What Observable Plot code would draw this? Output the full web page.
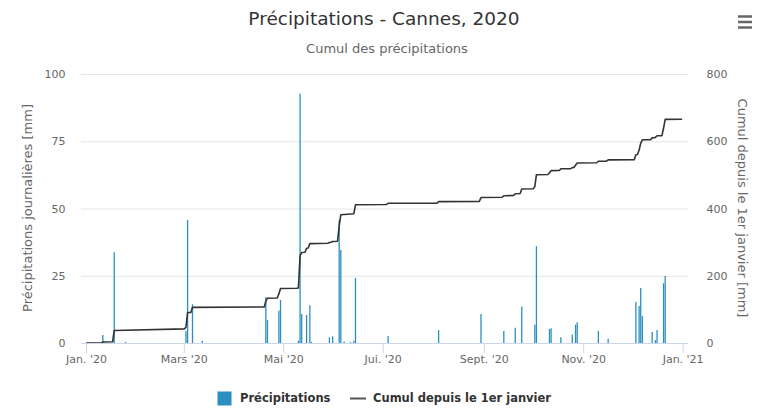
<!DOCTYPE html>
<html>
<head>
<meta charset="utf-8">
<script src="https://cdn.jsdelivr.net/npm/d3@7"></script>
<script src="https://cdn.jsdelivr.net/npm/@observablehq/plot@0.6"></script>
<style>
  body { margin: 0; background: #fff; }
  #chart svg { font-family: "DejaVu Sans", sans-serif; display: block; }
</style>
</head>
<body>
<div id="chart"></div>
<script>
// ---- Daily precipitation (mm) ----
const rainDates = [
  "2020-01-11","2020-01-18","2020-01-25",
  "2020-03-02","2020-03-03","2020-03-06","2020-03-12",
  "2020-04-20","2020-04-21","2020-04-28","2020-04-29",
  "2020-05-10","2020-05-11","2020-05-12","2020-05-15","2020-05-17","2020-05-18","2020-05-29","2020-05-31",
  "2020-06-04","2020-06-05","2020-06-07","2020-06-11","2020-06-13","2020-06-14",
  "2020-07-04","2020-08-04","2020-08-30",
  "2020-09-13","2020-09-20","2020-09-24",
  "2020-10-02","2020-10-03","2020-10-11","2020-10-12","2020-10-18","2020-10-25","2020-10-27","2020-10-28",
  "2020-11-10","2020-11-16",
  "2020-12-03","2020-12-05","2020-12-06","2020-12-07","2020-12-13","2020-12-15","2020-12-16","2020-12-20","2020-12-21"
];
const rainMm = [
  3.0, 33.7, 0.4,
  4.5, 45.7, 14.4, 0.8,
  17.1, 8.5, 12.0, 16.0,
  0.9, 92.7, 10.8, 10.4, 14.0, 0.4, 2.1, 2.5,
  45.7, 34.6, 0.6, 0.3, 0.8, 24.2,
  2.6, 4.8, 10.8,
  4.5, 5.7, 13.6,
  6.8, 36.0, 5.2, 5.5, 2.1, 3.2, 6.8, 7.7,
  4.5, 1.6,
  15.2, 13.8, 20.4, 10.0, 4.1, 1.1, 4.8, 22.2, 24.9
];

// ---- Cumulative since 1 January (mm), vertices of the line ----
const cumulDates = [
  "2020-01-01","2020-01-10","2020-01-11","2020-01-17","2020-01-18","2020-03-01","2020-03-02","2020-03-03","2020-03-05","2020-03-06",
  "2020-04-19","2020-04-20","2020-04-21","2020-04-27","2020-04-28","2020-04-29",
  "2020-05-09","2020-05-10","2020-05-11","2020-05-12","2020-05-14","2020-05-15","2020-05-16","2020-05-17","2020-05-28","2020-05-29","2020-05-30","2020-05-31",
  "2020-06-03","2020-06-04","2020-06-05","2020-06-13","2020-06-14",
  "2020-07-03","2020-07-04","2020-08-03","2020-08-04","2020-08-29","2020-08-30",
  "2020-09-12","2020-09-13","2020-09-19","2020-09-20","2020-09-23","2020-09-24",
  "2020-10-01","2020-10-02","2020-10-03","2020-10-10","2020-10-11","2020-10-12","2020-10-17","2020-10-18","2020-10-24","2020-10-25","2020-10-26","2020-10-27","2020-10-28",
  "2020-11-09","2020-11-10","2020-11-15","2020-11-16",
  "2020-12-02","2020-12-03","2020-12-04","2020-12-05","2020-12-06","2020-12-07","2020-12-12","2020-12-13","2020-12-14","2020-12-15","2020-12-16","2020-12-19","2020-12-20","2020-12-21","2020-12-31"
];
const cumulMm = [
  1, 1, 4.5, 5, 38.7, 43.6, 48.3, 92, 92.5, 107.5,
  108.6, 126, 134.7, 135.5, 147.5, 163.5,
  164.5, 165.5, 261, 270.5, 271.5, 283, 284, 297, 298, 300.5, 301, 303.5,
  304, 349, 383, 386, 412.5,
  413.5, 417, 417.5, 422, 422.5, 434,
  435, 439.5, 440, 445.5, 446, 459.5,
  460, 466.5, 502, 502.5, 508, 514, 514.5, 519.5, 520, 523, 523.5, 530, 537,
  537.5, 542, 542.5, 546,
  546.5, 561.5, 562, 575.5, 596, 605.8, 606, 611.5, 612, 613, 617.7, 618, 641, 666.5, 667
];

// ---- Axes ----
const xTickDates  = ["2020-01-01","2020-03-01","2020-05-01","2020-07-01","2020-09-01","2020-11-01","2021-01-01"];
const xTickLabels = ["Jan. '20","Mars '20","Mai '20","Jui. '20","Sept. '20","Nov. '20","Jan. '21"];
const leftTicks  = [0, 25, 50, 75, 100];
const rightTicks = [0, 200, 400, 600, 800];

const titleText    = "Précipitations - Cannes, 2020";
const subtitleText = "Cumul des précipitations";
const leftTitle    = "Précipitations journalières [mm]";
const rightTitle   = "Cumul depuis le 1er janvier [mm]";
const legendNames  = ["Précipitations", "Cumul depuis le 1er janvier"];

const barColor  = "#2a8fc0";
const lineColor = "#333333";

const parse = d3.utcParse("%Y-%m-%d");
const rain  = rainDates.map((d, i) => ({date: parse(d), mm: rainMm[i]}));
const cumul = cumulDates.map((d, i) => ({date: parse(d), mm: cumulMm[i]}));
const xTicks = xTickDates.map(parse);
const ratio = leftTicks[leftTicks.length - 1] / rightTicks[rightTicks.length - 1];

const chart = Plot.plot({
  width: 762,
  height: 409,
  marginLeft: 81,
  marginRight: 74,
  marginTop: 74,
  marginBottom: 66,
  style: {fontFamily: "DejaVu Sans", fontSize: "11px", background: "#fff"},
  x: {type: "utc", domain: [new Date(Date.UTC(2019, 11, 28, 22)), new Date(Date.UTC(2021, 0, 4, 7))]},
  y: {domain: [0, 100]},
  marks: [
    Plot.gridY(leftTicks, {stroke: "#e6e6e6", strokeOpacity: 1}),
    Plot.axisY(leftTicks, {anchor: "left", tickSize: 0, tickPadding: 16, label: null, fill: "#666", fontSize: 11}),
    Plot.axisY(leftTicks, {anchor: "right", tickSize: 0, tickPadding: 18, label: null, fill: "#666", fontSize: 11,
      tickFormat: d => String(rightTicks[leftTicks.indexOf(d)])}),
    Plot.ruleX(rain, {x: "date", y1: 0, y2: "mm", stroke: barColor, strokeWidth: 1.3}),
    Plot.line(cumul, {x: "date", y: d => d.mm * ratio, stroke: lineColor, strokeWidth: 1.6}),
    Plot.ruleY([0], {stroke: "#ccd6eb"}),
    Plot.axisX(xTicks, {tickSize: 10, tickPadding: 2, stroke: "#ccd6eb", fill: "#666", fontSize: 11, label: null,
      tickFormat: d => xTickLabels[xTicks.findIndex(t => +t === +d)]})
  ]
});

document.getElementById("chart").appendChild(chart);

const svg = d3.select(chart);
const W = 762;

// Title & subtitle
svg.append("text").attr("x", W / 2 + 3).attr("y", 25).attr("text-anchor", "middle")
  .attr("font-size", 18.5).attr("fill", "#333").text(titleText);
svg.append("text").attr("x", W / 2 + 6).attr("y", 53).attr("text-anchor", "middle")
  .attr("font-size", 13).attr("fill", "#666").text(subtitleText);

// Axis titles
svg.append("text").attr("transform", "translate(28,208) rotate(-90)").attr("text-anchor", "middle")
  .attr("dominant-baseline", "middle").attr("font-size", 13).attr("fill", "#666").text(leftTitle);
svg.append("text").attr("transform", "translate(741,208) rotate(90)").attr("text-anchor", "middle")
  .attr("dominant-baseline", "middle").attr("font-size", 13).attr("fill", "#666").text(rightTitle);

// Menu icon
[16.5, 22, 27.5].forEach(y => {
  svg.append("line").attr("x1", 738).attr("x2", 752).attr("y1", y).attr("y2", y)
    .attr("stroke", "#666").attr("stroke-width", 2.5);
});

// Legend
svg.append("rect").attr("x", 217.5).attr("y", 391.5).attr("width", 14).attr("height", 14).attr("fill", barColor);
svg.append("text").attr("x", 240).attr("y", 402).attr("text-anchor", "start").attr("font-size", 11.5)
  .attr("font-weight", "bold").attr("fill", "#333").text(legendNames[0]);
svg.append("line").attr("x1", 350).attr("x2", 366).attr("y1", 398.5).attr("y2", 398.5)
  .attr("stroke", "#555").attr("stroke-width", 2);
svg.append("text").attr("x", 373).attr("y", 402).attr("text-anchor", "start").attr("font-size", 11.5)
  .attr("font-weight", "bold").attr("fill", "#333").text(legendNames[1]);
</script>
</body>
</html>
